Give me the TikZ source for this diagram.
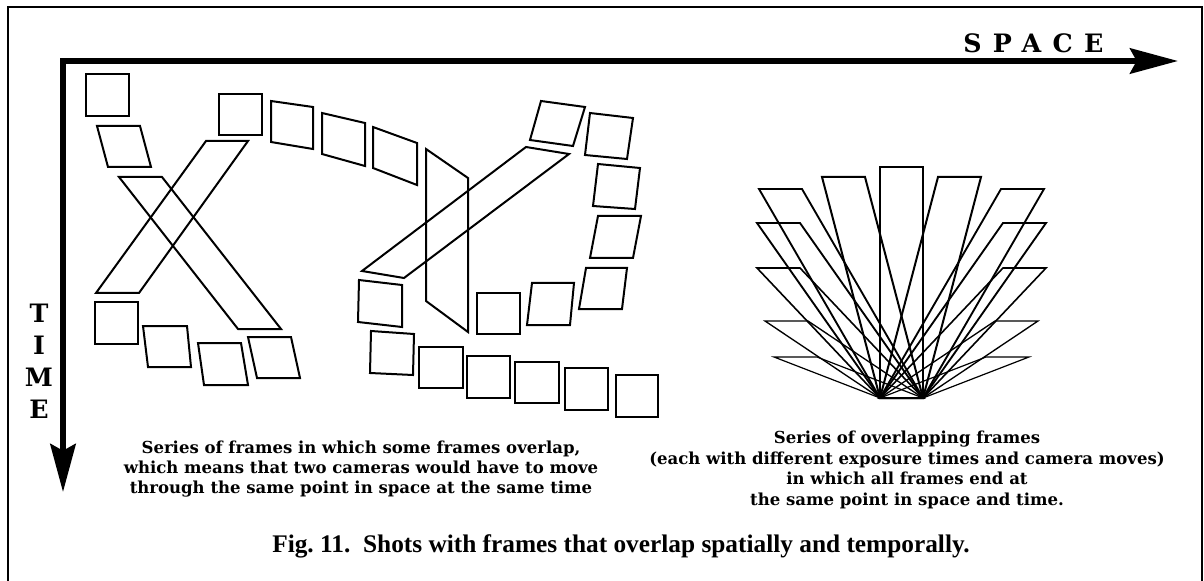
\documentclass[tikz,border=0pt]{standalone}
\usepackage{fontspec}
\setmainfont{DejaVu Serif}
\newfontfamily\capfont{Liberation Serif}
\newfontfamily\spacedfont{DejaVu Serif}[LetterSpace=45]
\usetikzlibrary{arrows.meta}

\tikzset{
  shot/.style={line width=1.5pt, line join=miter},
  fanshot/.style={line width=1.3pt},
  axis/.style={line width=4.2pt,
    {Stealth[length=36pt,width=19pt,inset=5pt]}-{Stealth[length=36pt,width=19pt,inset=5pt]}},
  axislabel/.style={font=\bfseries\fontsize{19}{24}\selectfont, inner sep=0pt},
  note/.style={font=\bfseries\fontsize{12.4}{15.3}\selectfont, align=center, inner sep=0pt},
}

\begin{document}
\begin{tikzpicture}[x=0.75pt, y=-0.75pt]  % 1 unidad = 1 pixel
  \useasboundingbox (0,0) rectangle (1204,581);

  % Marco exterior
  \draw[line width=1.8pt] (8,600) -- (8,7) -- (1202,7) -- (1202,600);

  % Ejes espacio / tiempo
  \coordinate (corner) at (63,61);
  \coordinate (tend) at (63,492);
  \coordinate (send) at (1178,61);
  \draw[axis] (tend) -- (corner) -- (send);
  \node[axislabel, font=\spacedfont\bfseries\fontsize{19}{24}\selectfont, anchor=west] (space) at (963,43) {SPACE};
  \node[axislabel, align=center] (time) at (39,361) {T\\I\\M\\E};

  % Series de cuadros que se solapan (izquierda)
  \foreach \ax/\ay/\bx/\by/\cx/\cy/\dx/\dy in {
      86/74/129/74/129/116/86/116,
      97/126/140/126/151/167/108/167,
      119/177/162/177/281/329/238/329,
      206/141/248/141/139/293/96/293,
      95/302/138/302/138/344/95/344,
      143/326/187/326/191/367/148/367,
      198/343/241/343/248/385/204/385,
      248/337/291/337/300/378/257/378,
      219/94/262/94/262/135/219/135,
      271/101/313/107/313/149/271/142,
      322/113/365/123/365/166/322/154,
      373/127/417/143/417/185/373/168,
      426/149/468/178/468/332/426/301,
      526/147/569/154/404/278/362/271,
      541/101/585/107/573/146/530/140,
      590/113/633/118/627/159/585/155,
      598/164/640/168/635/209/593/206,
      598/216/641/216/633/258/590/258,
      586/268/627/268/622/309/579/309,
      532/283/574/283/570/325/527/325,
      477/293/520/293/520/334/477/334,
      359/280/402/285/402/327/358/322,
      371/331/414/334/413/375/370/373,
      419/347/463/347/463/388/419/388,
      467/356/510/356/510/398/467/398,
      515/362/559/362/559/403/515/403,
      565/368/608/368/608/410/565/410,
      616/375/658/375/658/417/616/417}
    \draw[shot] (\ax,\ay) -- (\bx,\by) -- (\cx,\cy) -- (\dx,\dy) -- cycle;

  % Abanico de cuadros que terminan en el mismo punto (derecha)
  \coordinate (baseL) at (880,398);
  \coordinate (baseR) at (923,398);
  \foreach \dx/\ty/\lw in {0/167/1.5, -58/177/1.5, 58/177/1.5, -121/189/1.4, 121/189/1.4,
      -123/223/1.4, 123/223/1.4, -123/268/1.2, 123/268/1.2,
      -115/321/1.0, 115/321/1.0, -106/357/0.9, 106/357/0.9}
    \draw[fanshot, line width=\lw pt] (baseL) -- (880+\dx,\ty) -- (923+\dx,\ty) -- (baseR) -- cycle;

  % Textos
  \node[note] (leftnote) at (361,469)
    {Series of frames in which some frames overlap,\\
     which means that two cameras would have to move\\
     through the same point in space at the same time};
  \node[note] (rightnote) at (907,470)
    {Series of overlapping frames\\
     (each with different exposure times and camera moves)\\
     in which all frames end at\\
     the same point in space and time.};
  \node[font=\capfont\bfseries\fontsize{19}{22}\selectfont, inner sep=0pt] (caption) at (621,546)
    {Fig.\ 11.\ \ Shots with frames that overlap spatially and temporally.};
\end{tikzpicture}
\end{document}
